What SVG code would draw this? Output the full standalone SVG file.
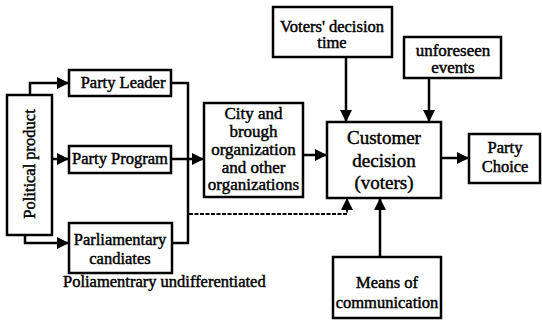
<svg xmlns="http://www.w3.org/2000/svg" width="542" height="324" viewBox="0 0 542 324">
<defs>
<marker id="ah" viewBox="0 0 12 12" markerWidth="12" markerHeight="12" refX="12" refY="6" orient="auto" markerUnits="userSpaceOnUse">
<path d="M0,0 L12,6 L0,12 Z" fill="#000"/>
</marker>
</defs>
<style>
rect{fill:#fff;stroke:#000;stroke-width:2.5}
text{font-size:16.5px;fill:#000;stroke:#000;stroke-width:0.45;text-anchor:middle}
.c line,.c path{fill:none;stroke:#000;stroke-width:2.5}
.c .a{marker-end:url(#ah)}
.c .d{stroke-dasharray:4 1.5;stroke-width:1.8}
</style>
<rect x="0" y="0" width="542" height="324" style="fill:#fff;stroke:none"/>
<g class="c" id="connectors">
<path class="a" d="M30,95 V83 H69"/>
<path class="a" d="M52,159 H69"/>
<path class="a" d="M25,235 V243 H69"/>
<path d="M171,83 H188 V243 H172"/>
<path class="a" d="M171,159 H204"/>
<path class="a" d="M303,155 H327"/>
<path class="a d" d="M189,214 H347 V198"/>
<path class="a" d="M346,57 V122"/>
<path class="a" d="M429,78 V122"/>
<path class="a" d="M380,257 V198"/>
<path class="a" d="M441,158 H469"/>
</g>
<g font-family="Liberation Serif, DejaVu Serif, serif">
<g id="political">
<rect x="7" y="95" width="45" height="140"/>
<text transform="translate(35,164) rotate(-90)">Political product</text>
</g>
<g id="leader">
<rect x="69" y="70" width="102" height="26"/>
<text x="123" y="88">Party Leader</text>
</g>
<g id="program">
<rect x="69" y="146" width="102" height="27"/>
<text x="120" y="164">Party Program</text>
</g>
<g id="parliamentary">
<rect x="69" y="223" width="103" height="50"/>
<text x="120" y="245">Parliamentary</text>
<text x="120" y="264">candiates</text>
</g>
<text x="63" y="287" style="text-anchor:start">Poliamentrary undifferentiated</text>
<g id="city" style="font-size:17px">
<rect x="204" y="103" width="99" height="94"/>
<text x="253.5" y="119" style="font-size:17px">City and</text>
<text x="253.5" y="137" style="font-size:17px">brough</text>
<text x="253.5" y="155" style="font-size:17px">organization</text>
<text x="253.5" y="173" style="font-size:17px">and other</text>
<text x="253.5" y="190" style="font-size:17px">organizations</text>
</g>
<g id="voters">
<rect x="273" y="7" width="119" height="50"/>
<text x="332" y="32">Voters' decision</text>
<text x="332" y="48">time</text>
</g>
<g id="unforeseen">
<rect x="404" y="37" width="97" height="41"/>
<text x="453" y="56" style="font-size:17px">unforeseen</text>
<text x="453" y="73" style="font-size:17px">events</text>
</g>
<g id="customer">
<rect x="327" y="122" width="114" height="76"/>
<text x="384" y="144" style="font-size:19px">Customer</text>
<text x="384" y="167" style="font-size:19px">decision</text>
<text x="384" y="189" style="font-size:19px">(voters)</text>
</g>
<g id="choice">
<rect x="469" y="134" width="71" height="49"/>
<text x="505" y="153">Party</text>
<text x="505" y="172">Choice</text>
</g>
<g id="means">
<rect x="333" y="257" width="108" height="61"/>
<text x="387" y="288">Means of</text>
<text x="387" y="308">communication</text>
</g>
</g>
</svg>
